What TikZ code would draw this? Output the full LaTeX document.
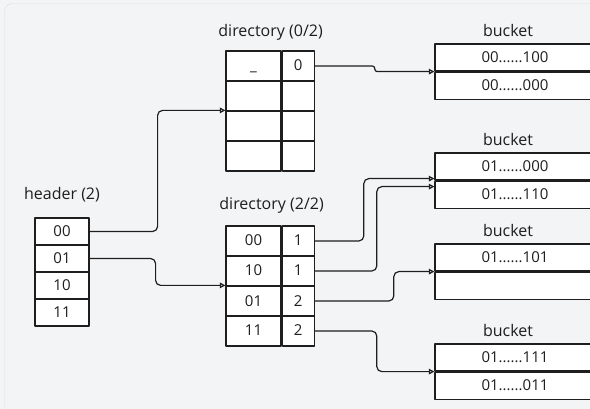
\documentclass[tikz,border=0pt]{standalone}
\usepackage{fontspec}
\setmainfont{Open Sans}
\usetikzlibrary{arrows.meta,positioning}
\definecolor{ink}{HTML}{1E1E1E}
\definecolor{paper}{HTML}{F3F4F6}
\definecolor{rim}{HTML}{DCDEE2}
\newcommand{\dotrun}{......}
\tikzset{
  cell/.style={draw=ink,fill=white,line width=1.2pt,inner sep=0pt,text height=12pt,text depth=2pt,font=\fontsize{15}{17}\selectfont},
  title/.style={inner sep=0pt,font=\fontsize{16}{18}\selectfont},
  link/.style={draw=ink,line width=1.2pt,rounded corners=5pt,-{Triangle[open,length=5.5pt,width=5.5pt]}}
}
\begin{document}
\begin{tikzpicture}[x=1pt,y=-1pt,line join=round,line cap=round,text=ink]
	\def\rh{27} \def\dh{30}
	\useasboundingbox (0,0) rectangle (590,409);
	\fill[paper] (0,0) rectangle (590,409);
	\draw[rim,rounded corners=8pt] (4.5,420)--(4.5,3.5)--(600,3.5);
	% header
	\foreach \lab [count=\i from 0] in {00,01,10,11}
		\node[cell,minimum width=54,minimum height=\rh] (h\i) at (62,{218+\rh*(\i+.5)}) {\lab};
	\node[title,above=18pt of h0.north,anchor=base] (hlab) {header (2)};
	% directories
	\foreach \a/\b [count=\i from 0] in {\_/0,/,/,/}{
		\node[cell,minimum width=55,minimum height=\dh] (p\i) at (253.5,{51+\dh*(\i+.5)}) {\a};
		\node[cell,minimum width=32,minimum height=\dh,right=0pt of p\i] (q\i) {\b};
	}
	\node[title,above=14pt of p0.north east,anchor=base,xshift=-11pt] (plab) {directory (0/2)};
	\foreach \a/\b [count=\i from 0] in {00/1,10/1,01/2,11/2}{
		\node[cell,minimum width=55,minimum height=\dh] (r\i) at (253.5,{226+\dh*(\i+.5)}) {\a};
		\node[cell,minimum width=32,minimum height=\dh,right=0pt of r\i] (s\i) {\b};
	}
	\node[title,above=16pt of r0.north east,anchor=base,xshift=-10pt] (rlab) {directory (2/2)};
	% buckets
	\foreach \y/\u/\v [count=\i] in {44/00\dotrun100/00\dotrun000,153/01\dotrun000/01\dotrun110,244/01\dotrun101/,344/01\dotrun111/01\dotrun011}{
		\node[cell,minimum width=160,minimum height=\rh] (u\i) at (515,{\y+\rh/2}) {\u};
		\node[cell,minimum width=160,minimum height=\rh,below=0pt of u\i] (v\i) {\v};
		\node[title,above=7pt of u\i.north,anchor=base,xshift=-7pt] (ulab\i) {bucket};
	}
	% pointers
	\draw[link] (h0.east)--++(68,0)|-(p2.north west);
	\draw[link] (h1.east)--++(66,0)|-(r2.north west);
	\draw[link,rounded corners=2.5pt] (q0.east)--++(60,0)|-(u1.south west);
	\draw[link] (s0.east)--++(49,0)|-([yshift=2pt]u2.south west);
	\draw[link] (s1.east)--++(62,0)|-([yshift=-6pt]u2.south west);
	\draw[link] (s2.east)--++(79,0)|-(u3.south west);
	\draw[link] (s3.east)--++(62,0)|-(u4.south west);
\end{tikzpicture}
\end{document}
